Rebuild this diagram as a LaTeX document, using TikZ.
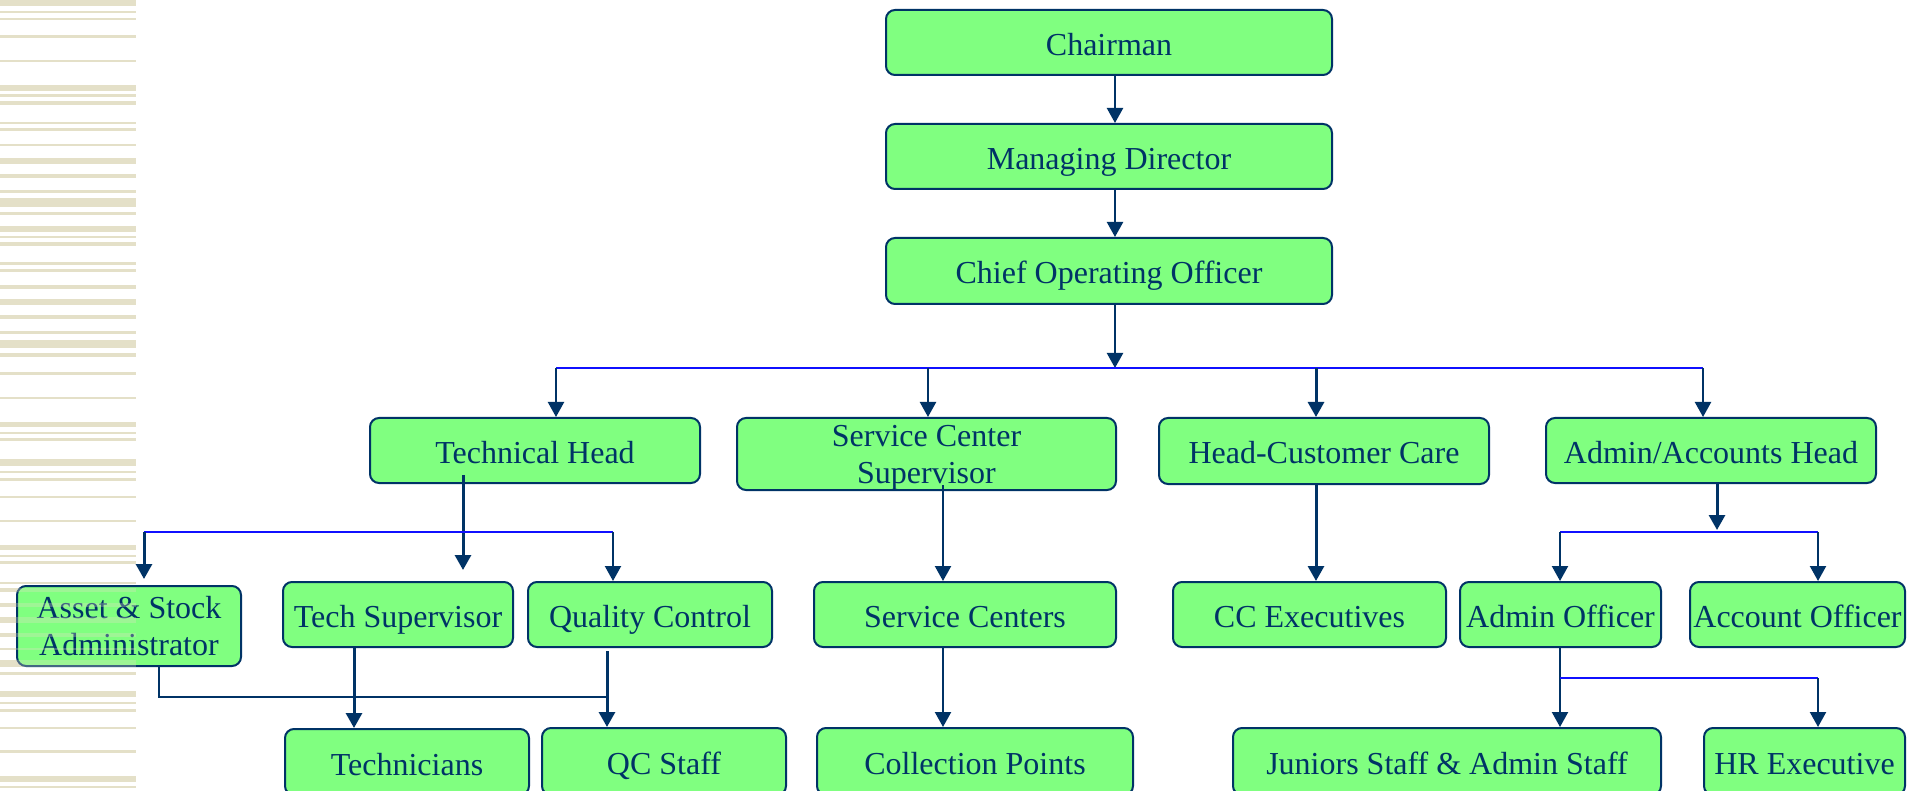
\documentclass[tikz,border=0pt]{standalone}
\usepackage{fontspec}
\setmainfont{Liberation Serif}
\usetikzlibrary{arrows.meta}
\definecolor{navy}{HTML}{003366}
\definecolor{boxgreen}{HTML}{80FF80}
\definecolor{busblue}{HTML}{1010FF}
\definecolor{stripe}{HTML}{E4E0C8}
\tikzset{
  basebox/.style={draw=navy, line width=2pt, fill=boxgreen, rounded corners=9pt,
    inner sep=0pt, align=center, text=navy, anchor=north west,
    font=\fontsize{32}{37}\selectfont},
  orgbox/.style={basebox, text height=26pt, text depth=0pt},
  conn/.style={draw=navy, line width=2.2pt, -{Triangle[width=16pt,length=15pt]}},
  thickconn/.style={draw=navy, line width=3pt, -{Triangle[width=16pt,length=15pt]}},
  plainconn/.style={draw=navy, line width=2.2pt},
  bus/.style={draw=busblue, line width=2.5pt},
}
\newcommand{\stripelist}{0/6, 11/13, 18/20, 35/38, 60/62, 85/91, 94/97, 101/105, 122/124, 128/131, 144/146, 158/164, 174/178, 190/193, 198/207, 212/215, 226/232, 236/238, 242/246, 262/265, 269/272, 285/289, 299/305, 315/319, 331/334, 340/348, 353/357, 372/375, 397/399, 422/427, 432/434, 438/441, 459/466, 471/473, 478/481, 496/498, 520/522, 545/550, 555/557, 561/564, 582/584, 588/592, 603/607, 617/623, 633/637, 648/650, 660/667, 672/675, 691/697, 702/704, 709/712, 727/729, 750/753, 776/782, 786/788}
\begin{document}
\begin{tikzpicture}[x=1pt,y=-1pt]
\useasboundingbox (0,0) rectangle (1907,791);
\clip (0,0) rectangle (1907,791);
\fill[white] (0,0) rectangle (1907,791);
% left stripes
\foreach \a/\b in \stripelist { \fill[stripe] (0,\a) rectangle (136,\b); }

% level 0-1
\node[orgbox, minimum width=446pt, minimum height=65pt] (chair) at (885,9) {Chairman};
\node[orgbox, minimum width=446pt, minimum height=65pt] (md) at (885,123) {Managing Director};
\node[orgbox, minimum width=446pt, minimum height=66pt] (coo) at (885,237) {Chief Operating Officer};
% level 2
\node[orgbox, minimum width=330pt, minimum height=65pt] (th) at (369,417) {Technical Head};
\node[basebox, text depth=0pt, minimum width=379pt, minimum height=72pt] (scs) at (736,417) {Service Center\\Supervisor};
\node[orgbox, minimum width=330pt, minimum height=66pt] (hcc) at (1158,417) {Head-Customer Care};
\node[orgbox, minimum width=330pt, minimum height=65pt] (aah) at (1545,417) {Admin/Accounts Head};
% level 3
\node[basebox, minimum width=224pt, minimum height=80pt] (asset) at (16,585) {Asset \& Stock\\Administrator};
\node[orgbox, minimum width=230pt, minimum height=65pt] (ts) at (282,581) {Tech Supervisor};
\node[orgbox, minimum width=244pt, minimum height=65pt] (qc) at (527,581) {Quality Control};
\node[orgbox, minimum width=302pt, minimum height=65pt] (sc) at (813,581) {Service Centers};
\node[orgbox, minimum width=273pt, minimum height=65pt] (cce) at (1172,581) {CC Executives};
\node[orgbox, minimum width=201pt, minimum height=65pt] (ao) at (1459,581) {Admin Officer};
\node[orgbox, minimum width=215pt, minimum height=65pt] (aco) at (1689,581) {Account Officer};
% level 4
\node[orgbox, minimum width=244pt, minimum height=66pt] (tech) at (284,728) {Technicians};
\node[orgbox, minimum width=244pt, minimum height=67pt] (qcs) at (541,727) {QC Staff};
\node[orgbox, minimum width=316pt, minimum height=67pt] (cp) at (816,727) {Collection Points};
\node[orgbox, minimum width=428pt, minimum height=67pt] (jun) at (1232,727) {Juniors Staff \& Admin Staff};
\node[orgbox, minimum width=201pt, minimum height=67pt] (hr) at (1703,727) {HR Executive};

% overlay stripes faintly over the box that crosses them
\begin{scope}
\clip (0,0) rectangle (136,791);
\foreach \a/\b in \stripelist { \fill[stripe, opacity=0.3] (0,\a) rectangle (136,\b); }
\end{scope}

% coordinates
\coordinate (bus1) at (1115,368);
\coordinate (bus1L) at (556,368);
\coordinate (bus1R) at (1703,368);
\coordinate (thtip) at (463,570);
\coordinate (bus2L) at (144,532);
\coordinate (bus2R) at (613,532);
\coordinate (abend) at (159,697);
\coordinate (abend2) at (607,697);
\coordinate (bus3) at (1717,530);
\coordinate (bus3L) at (1560,532);
\coordinate (bus3R) at (1818,532);
\coordinate (bus4L) at (1560,678);
\coordinate (bus4R) at (1818,678);

% top chain
\draw[conn] (chair.south -| 1115,0) -- (md.north -| 1115,0);
\draw[conn] (md.south -| 1115,0) -- (coo.north -| 1115,0);
\draw[conn] (coo.south -| 1115,0) -- (bus1);
\draw[bus] (bus1L) -- (bus1R);
\draw[conn] (bus1L) -- (th.north -| bus1L);
\draw[conn] (bus1L -| 928,0) -- (scs.north -| 928,0);
\draw[thickconn] (bus1L -| 1316,0) -- (hcc.north -| 1316,0);
\draw[conn] (bus1R) -- (aah.north -| bus1R);

% technical head branch
\draw[thickconn] ([yshift=9pt]th.south -| thtip) -- (thtip);
\draw[bus] (bus2L) -- (bus2R);
\draw[thickconn] (bus2L) -- ([yshift=6pt]asset.north -| bus2L);
\draw[conn] (bus2R) -- (qc.north -| bus2R);
\draw[thickconn] (ts.south -| 354,0) -- (tech.north -| 354,0);
\draw[thickconn] ([yshift=-3pt]qc.south -| abend2) -- (qcs.north -| abend2);
\draw[plainconn] (asset.south -| abend) -- (abend) -- (abend2);

% service center branch
\draw[conn] ([yshift=6pt]scs.south -| 943,0) -- (sc.north -| 943,0);
\draw[conn] (sc.south -| 943,0) -- (cp.north -| 943,0);

% customer care branch
\draw[thickconn] (hcc.south -| 1316,0) -- (cce.north -| 1316,0);

% admin branch
\draw[thickconn] (aah.south -| bus3) -- (bus3);
\draw[bus] (bus3L) -- (bus3R);
\draw[conn] (bus3L) -- (ao.north -| bus3L);
\draw[conn] (bus3R) -- (aco.north -| bus3R);
\draw[conn] (ao.south -| bus4L) -- (jun.north -| bus4L);
\draw[bus] (bus4L) -- (bus4R);
\draw[conn] (bus4R) -- (hr.north -| bus4R);
\end{tikzpicture}
\end{document}
